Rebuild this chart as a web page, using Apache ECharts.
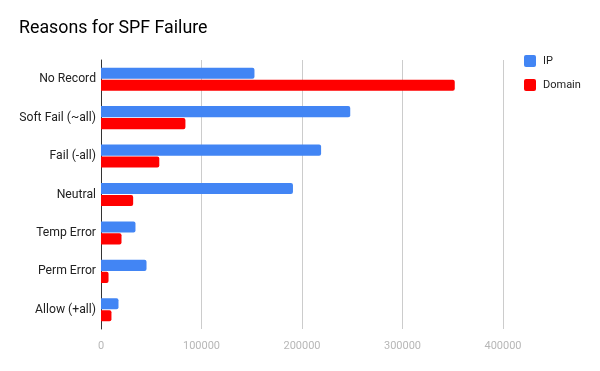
<!DOCTYPE html>
<html><head><meta charset="utf-8">
<script src="https://cdn.jsdelivr.net/npm/echarts@6/dist/echarts.min.js"></script>
<style>html,body{margin:0;padding:0;background:#fff}#c{width:600px;height:371px}</style>
</head><body><div id="c"></div>
<script>
const categories = ["No Record","Soft Fail (~all)","Fail (-all)","Neutral","Temp Error","Perm Error","Allow (+all)"];
const ipValues = [152700,248000,219000,191000,34300,45300,17400];
const domainValues = [352000,84000,58000,32000,20400,7500,10400];
const xTicks = [0,100000,200000,300000,400000];

const chart = echarts.init(document.getElementById('c'), null, {renderer:'canvas'});
chart.setOption({
  animation:false,
  title:{text:"Reasons for SPF Failure",left:19,top:20,padding:0,textStyle:{fontFamily:"Roboto",fontSize:17.8,fontWeight:'normal',color:'#000'}},
  legend:{orient:'vertical',left:524,top:55,padding:0,itemWidth:12,itemHeight:12,itemGap:12,icon:'path://M2,0H10A2,2 0 0 1 12,2V10A2,2 0 0 1 10,12H2A2,2 0 0 1 0,10V2A2,2 0 0 1 2,0Z',
    textStyle:{fontFamily:'Roboto',fontSize:11,color:'#222',padding:[0,0,0,2]},data:['IP','Domain']},
  grid:{left:101,right:97,top:60,bottom:42,containLabel:false},
  xAxis:{type:'value',min:xTicks[0],max:xTicks[xTicks.length-1],interval:100000,
    axisLine:{show:false},axisTick:{show:false},
    splitLine:{lineStyle:{color:'#ccc'}},
    axisLabel:{color:'#b7b7b7',fontFamily:'Roboto',fontSize:11,margin:12,formatter:v=>String(v)}},
  yAxis:{type:'category',inverse:true,data:categories,
    axisLine:{lineStyle:{color:'#333'}},axisTick:{show:false},
    axisLabel:{color:'#222',fontFamily:'Roboto',fontSize:12.2,margin:5}},
  series:[
    {name:'IP',type:'bar',data:ipValues,itemStyle:{color:'#4285f4',borderRadius:[0,2,2,0]},barGap:'8%',barCategoryGap:'40%'},
    {name:'Domain',type:'bar',data:domainValues,itemStyle:{color:'#ff0000',borderRadius:[0,2,2,0]}}
  ]
});
</script></body></html>
